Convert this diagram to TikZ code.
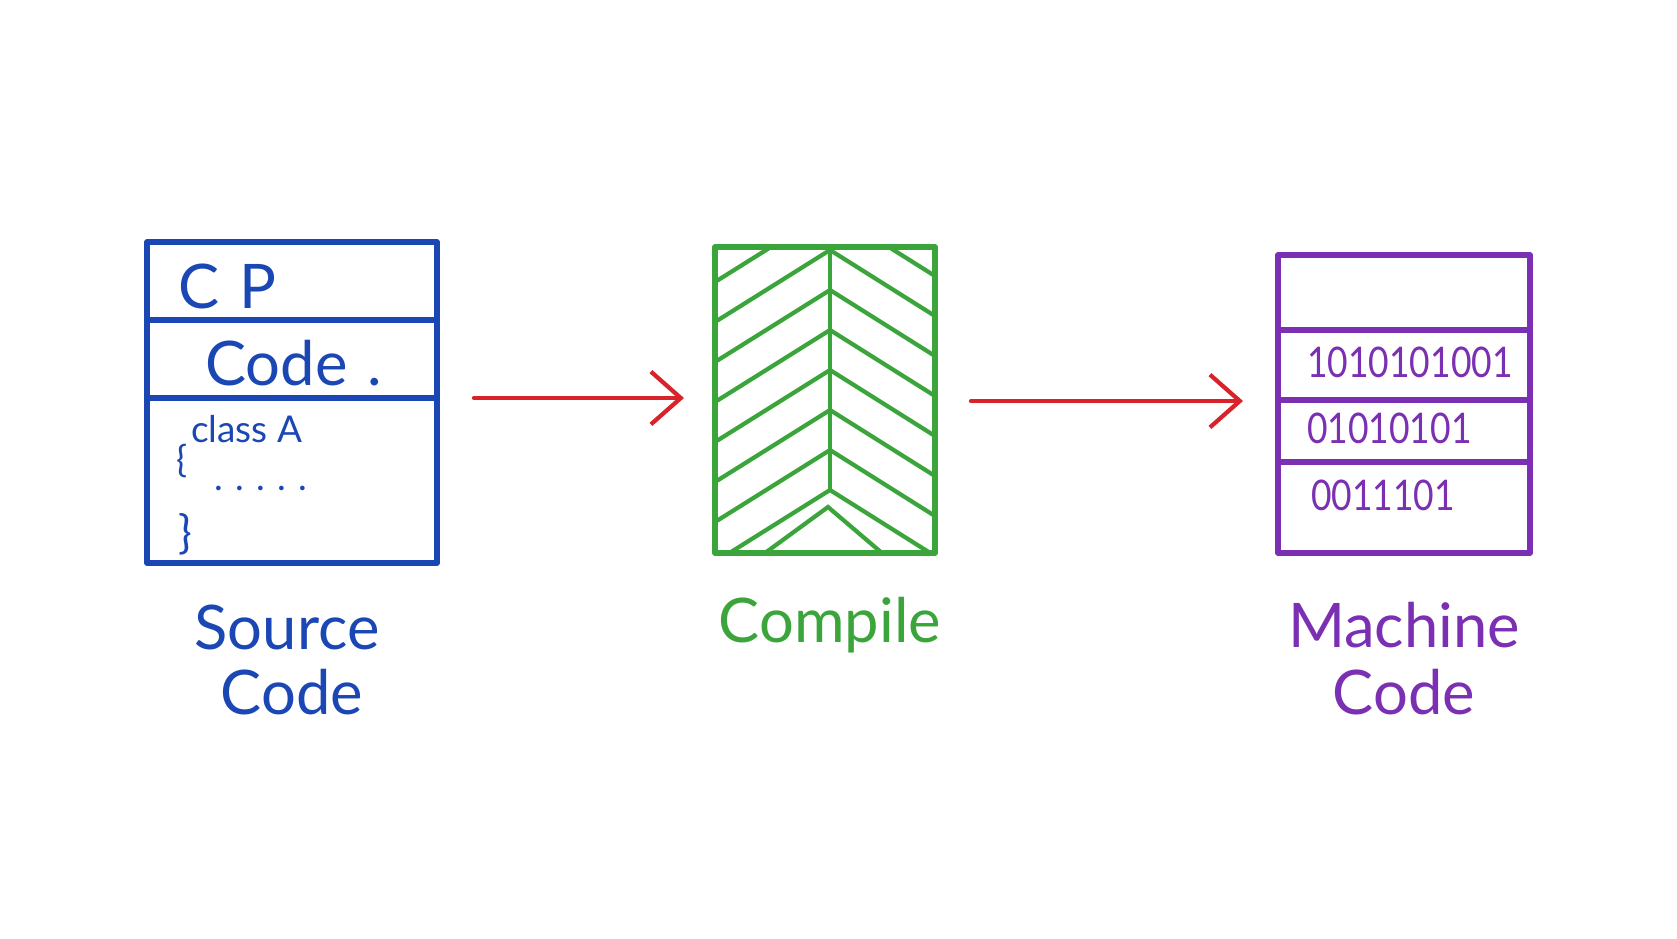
\documentclass[tikz,border=0pt]{standalone}
\usepackage{fontspec}
\setmainfont{Lato}
\usetikzlibrary{arrows.meta}
\definecolor{srcblue}{HTML}{1B47B5}
\definecolor{cmpgreen}{HTML}{3BA53B}
\definecolor{mchpurple}{HTML}{7B2FB2}
\definecolor{flowred}{HTML}{D8232A}
\tikzset{
	boxline/.style={line width=3.2pt,line join=round,line cap=round},
	hatch/.style={draw=cmpgreen,line width=2.4pt,line cap=round},
	flow/.style={draw=flowred,line width=2.4pt,line cap=round,
		-{Straight Barb[length=17pt,width=30pt,line width=2.4pt]}},
	big/.style={font=\fontsize{35}{35}\selectfont},
	small/.style={font=\fontsize{21}{21}\selectfont},
	bits/.style={font=\fontsize{24}{24}\selectfont,text=mchpurple,anchor=base west,xscale=0.84}
}
\begin{document}
\begin{tikzpicture}[x=0.02cm,y=-0.02cm]
				\useasboundingbox[fill=white] (0,0) rectangle (1677,938);
				\path
				(147,242) coordinate (S1)
				(437,563) coordinate (S2)
				(437,398) coordinate (Se)
				(715,247) coordinate (C1)
				(935,553) coordinate (C2)
				(715,398) coordinate (Cw)
				(935,401) coordinate (Ce)
				(1278,255) coordinate (M1)
				(1530,553) coordinate (M2)
				(1278,401) coordinate (Mw);
				% source code
				\draw[boxline,srcblue] (S1) rectangle (S2);
				\draw[boxline,srcblue] (147,320)--(437,320) (147,398)--(437,398);
				\node[big,text=srcblue,anchor=base west] (cp) at (172,308) {C\,\,P};
				\node[big,text=srcblue,anchor=base west] (code) at (199,385) {Code\,\,.};
				\node[small,text=srcblue,anchor=base west] (cls) at (185,442) {class A};
				\node[small,text=srcblue,anchor=base west] (lb) at (170,472) {\{};
				\node[small,text=srcblue,anchor=base west] (dots) at (208,490) {.\,\,.\,\,.\,\,.\,\,.};
				\node[font=\fontsize{26}{26}\selectfont,text=srcblue,anchor=base west] (rb) at (172,548) {\}};
				\node[big,text=srcblue,anchor=base] (srclbl) at (287,649) {Source};
				\node[big,text=srcblue,anchor=base] (srclbl2) at (292,714) {Code};
				% compile
				\begin{scope}
					\clip (C1) rectangle (C2);
					\foreach \a in {210,250,...,490}
						\draw[hatch] (715,\a+72)--(830,\a)--(935,\a+66);
				\end{scope}
				\draw[hatch] (830,247)--(830,490);
				\draw[hatch] (765,553)--(828,507)--(882,553);
				\draw[boxline,cmpgreen] (C1) rectangle (C2);
				\node[big,text=cmpgreen,anchor=base] (cmplbl) at (830,642) {Compile};
				% machine code
				\draw[boxline,mchpurple] (M1) rectangle (M2);
				\draw[boxline,mchpurple] (1278,330)--(1530,330) (1278,400)--(1530,400) (1278,462)--(1530,462);
				\node[bits] (b1) at (1302,377) {1010101001};
				\node[bits] (b2) at (1302,443) {01010101};
				\node[bits] (b3) at (1306,510) {0011101};
				\node[big,text=mchpurple,anchor=base] (mchlbl) at (1404,647) {Machine};
				\node[big,text=mchpurple,anchor=base] (mchlbl2) at (1404,714) {Code};
				% arrows
				\draw[flow,shorten <=0.74cm,shorten >=0.62cm] (Se)--(Cw);
				\draw[flow,shorten <=0.72cm,shorten >=0.70cm] (Ce)--(Mw);
\end{tikzpicture}
\end{document}
